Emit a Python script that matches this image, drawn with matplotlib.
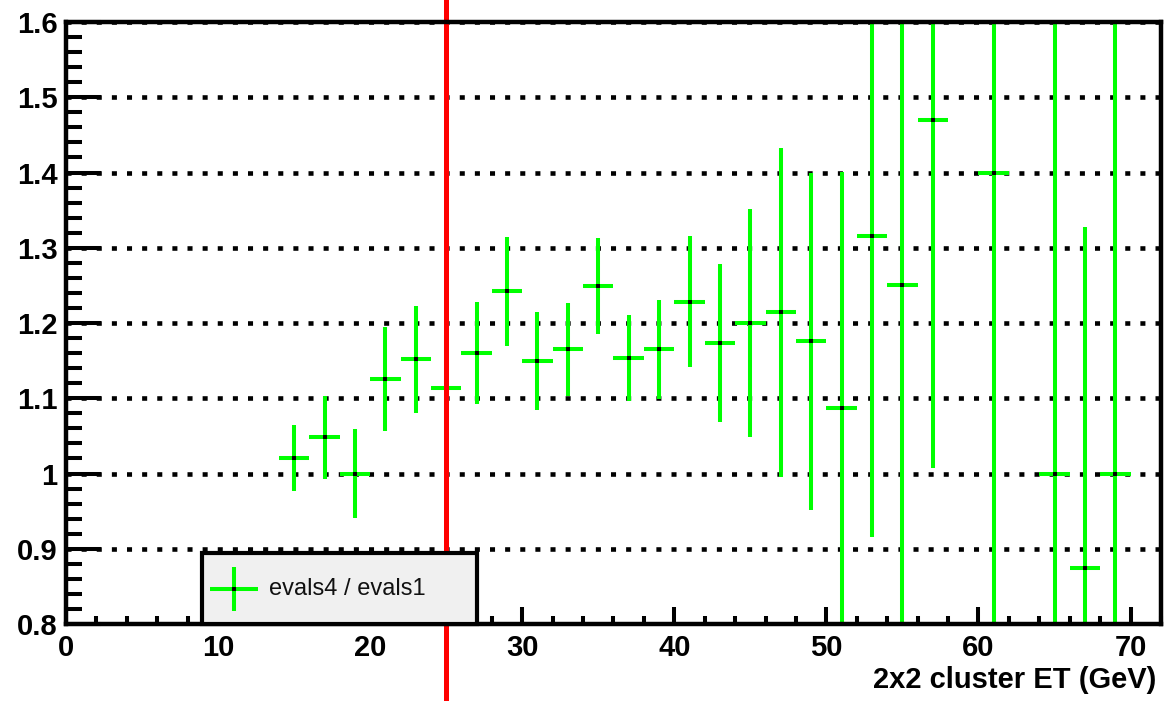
import numpy as np
import matplotlib
matplotlib.use("Agg")
import matplotlib.pyplot as plt
from matplotlib.patches import Rectangle
from matplotlib.ticker import MultipleLocator, FuncFormatter

# ratio evals4 / evals1 per 2 GeV bin of 2x2 cluster ET
et_bins = [15, 17, 19, 21, 23, 25, 27, 29, 31, 33, 35, 37, 39, 41,
           43, 45, 47, 49, 51, 53, 55, 57, 61, 65, 67, 69]
ratio = [1.021, 1.048, 1.000, 1.126, 1.152, 1.114, 1.160, 1.242, 1.149, 1.165,
         1.249, 1.153, 1.165, 1.228, 1.174, 1.200, 1.214, 1.176, 1.087, 1.315,
         1.250, 1.470, 1.400, 1.000, 0.875, 1.000]
ratio_err = [0.044, 0.055, 0.059, 0.069, 0.071, 0.070, 0.068, 0.072, 0.065, 0.062,
             0.064, 0.057, 0.066, 0.087, 0.105, 0.152, 0.219, 0.224, 0.314, 0.399,
             0.500, 0.462, 0.700, 0.700, 0.453, 0.700]
bin_half = 1.0
et_cut = 25

plt.rcParams['font.family'] = ['Liberation Sans', 'DejaVu Sans']

fig = plt.figure(figsize=(11.68, 7.01), dpi=100)
ax = fig.add_axes([0.0565, 0.1098, 0.9375, 0.8588])

ax.errorbar(et_bins, ratio, xerr=bin_half, yerr=ratio_err, fmt='s',
            color='black', ms=3.5, mew=0, ecolor='#00ff00', elinewidth=2.9,
            capsize=0, zorder=3)

ax.axvline(et_cut, ymin=-0.128, ymax=1.04, color='#ff0000', lw=3.6,
           clip_on=False, zorder=4)

ax.set_xlim(0, 72)
ax.set_ylim(0.8, 1.6)

ax.xaxis.set_major_locator(MultipleLocator(10))
ax.xaxis.set_minor_locator(MultipleLocator(2))
ax.yaxis.set_major_locator(MultipleLocator(0.1))
ax.yaxis.set_minor_locator(MultipleLocator(0.02))
ax.yaxis.set_major_formatter(FuncFormatter(lambda v, p: f"{v:g}"))

ax.tick_params(which='both', direction='in', top=False, right=False, width=2.9,
               color='black')
ax.tick_params(axis='y', which='major', length=25, pad=6)
ax.tick_params(axis='y', which='minor', length=11.5)
ax.tick_params(axis='x', which='major', length=12.5, pad=7)
ax.tick_params(axis='x', which='minor', length=5.5)
for lab in ax.get_xticklabels() + ax.get_yticklabels():
    lab.set_fontsize(21)
    lab.set_fontweight('bold')

ax.yaxis.grid(True, which='major', color='black', lw=3.3,
              linestyle=(0, (1.1, 2.2)))
ax.set_axisbelow(True)

for s in ax.spines.values():
    s.set_linewidth(3.2)
    s.set_zorder(6)

ax.set_xlabel('2x2 cluster ET (GeV)', fontsize=21, fontweight='bold',
              ha='right', va='center')
ax.xaxis.set_label_coords(0.996, -0.093)

# legend box
ax.add_patch(Rectangle((0.1242, 0.0), 0.2511, 0.118, transform=ax.transAxes,
                       facecolor='#f0f0f0', edgecolor='black', lw=3.0,
                       clip_on=False, zorder=7))
lx, ly = 0.1534, 0.0581
ax.plot([lx - 0.0219, lx + 0.0219], [ly, ly], color='#00ff00', lw=2.9,
        transform=ax.transAxes, zorder=8, solid_capstyle='butt')
ax.plot([lx, lx], [ly - 0.0365, ly + 0.0365], color='#00ff00', lw=2.9,
        transform=ax.transAxes, zorder=8, solid_capstyle='butt')
ax.plot([lx], [ly], 's', color='black', ms=3.5, mew=0,
        transform=ax.transAxes, zorder=9)
ax.text(0.1854, ly, 'evals4 / evals1', fontsize=17, color='#111111',
        ha='left', va='center', transform=ax.transAxes, zorder=9)

fig.savefig('out.png', dpi=100)
